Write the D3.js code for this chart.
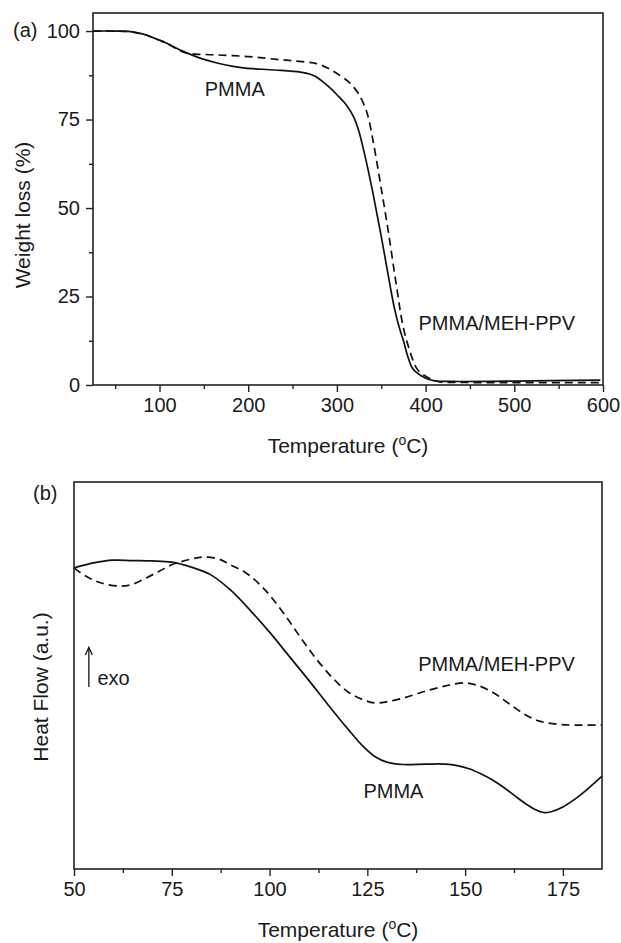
<!DOCTYPE html>
<html>
<head>
<meta charset="utf-8">
<script src="https://cdn.jsdelivr.net/npm/d3@7"></script>
<style>
	body { margin: 0; background: #fff; }
	svg text { font-family: "Liberation Sans", Arial, sans-serif; fill: #1a1a1a; }
</style>
</head>
<body>
<div id="chart"></div>
<script>
// (a) TGA curves: temperature (C) vs weight (%)
var tgaTemp = [25, 50, 65, 75, 85, 90, 100, 107, 115, 122, 130, 150, 166, 183, 197, 230, 259, 270, 277, 285, 292, 300, 310, 319, 325, 330, 335, 340, 345, 350, 355, 360, 365, 370, 375, 380, 385, 390, 398, 405, 413, 430, 500, 597];
var tgaPMMA = [100, 100, 99.9, 99.5, 98.9, 98.4, 97.4, 96.7, 95.6, 94.8, 93.9, 92.0, 90.9, 90.0, 89.5, 89.0, 88.4, 87.8, 87.0, 85.5, 84.0, 82.0, 79.3, 75.7, 71.5, 66.5, 61.0, 55.0, 48.5, 42.0, 35.0, 28.0, 21.5, 16.5, 12.5, 8.0, 4.8, 3.5, 2.2, 1.5, 1.1, 1.0, 1.1, 1.4];

var tgaTempBlend = [25, 50, 65, 75, 85, 90, 100, 107, 115, 122, 130, 140, 160, 200, 232, 255, 277, 290, 300, 310, 315, 320, 325, 330, 335, 340, 345, 350, 355, 360, 365, 369, 372, 376, 380, 385, 391, 400, 409, 416, 450, 597];
var tgaBlend = [100, 100, 99.9, 99.5, 98.9, 98.4, 97.4, 96.7, 95.6, 94.6, 93.8, 93.5, 93.3, 92.8, 92.0, 91.5, 90.8, 89.5, 88.0, 86.3, 85.2, 83.8, 82.0, 79.5, 76.0, 70.0, 63.0, 55.5, 48.0, 40.0, 31.5, 25.0, 20.0, 15.0, 11.4, 7.5, 4.3, 2.5, 1.4, 0.9, 0.7, 0.7];

var tgaXTicks = [100, 200, 300, 400, 500, 600];
var tgaXMinor = [50, 150, 250, 350, 450, 550];
var tgaYTicks = [0, 25, 50, 75, 100];
var tgaYMinor = [12.5, 37.5, 62.5, 87.5];

// (b) DSC curves: temperature (C) vs heat flow (arbitrary units)
var dscTemp = [50, 55, 60, 65, 70, 75, 80, 85, 90, 95, 100, 105, 110, 115, 120, 124, 127, 130, 134, 140, 145, 148, 151, 154, 157, 160, 163, 166, 168, 170, 172, 175, 178, 181, 185];
var dscPMMA = [77.8, 79.1, 79.8, 79.7, 79.6, 79.3, 78.0, 76.0, 72.1, 66.9, 61.2, 55.0, 48.8, 42.4, 36.2, 31.6, 29.0, 27.6, 27.0, 27.1, 27.1, 26.7, 25.9, 24.6, 23.0, 21.0, 18.7, 16.5, 15.3, 14.6, 14.8, 16.0, 18.0, 20.4, 24.0];

var dscTempBlend = [50, 53, 57, 61.8, 65, 70, 75, 80, 83, 87, 90, 94, 97, 100, 104, 108, 112, 116, 120, 124, 127, 130, 135, 140, 145, 149.5, 153, 157, 161, 165, 169, 173, 177, 185];
var dscBlend = [77.8, 75.7, 73.9, 73.1, 73.6, 76.0, 78.6, 80.1, 80.6, 80.1, 78.6, 76.5, 74.0, 70.8, 65.5, 59.7, 54.2, 49.5, 45.8, 43.7, 42.9, 43.2, 44.4, 46.0, 47.3, 48.1, 47.5, 45.7, 42.9, 40.1, 38.2, 37.5, 37.2, 37.2];

var dscXTicks = [50, 75, 100, 125, 150, 175];
var dscXMinor = [62.5, 87.5, 112.5, 137.5, 162.5];

var width = 621;
var height = 943;

var svg = d3.select("#chart").append("svg")
	.attr("width", width)
	.attr("height", height)
	.attr("viewBox", "0 0 " + width + " " + height);

svg.append("rect").attr("width", width).attr("height", height).attr("fill", "#fff");

function zip(xs, ys) {
	return xs.map(function(x, i) { return [x, ys[i]]; });
}

function drawPanel(opts) {
	var g = svg.append("g");
	var x = d3.scaleLinear().domain(opts.xDomain).range([opts.left, opts.right]);
	var y = d3.scaleLinear().domain(opts.yDomain).range([opts.bottom, opts.top]);

	var line = d3.line()
		.x(function(d) { return x(d[0]); })
		.y(function(d) { return y(d[1]); })
		.curve(d3.curveCatmullRom.alpha(0.5));

	opts.series.forEach(function(s) {
		g.append("path")
			.datum(zip(s.x, s.y))
			.attr("d", line)
			.attr("fill", "none")
			.attr("stroke", "#111")
			.attr("stroke-width", 1.7)
			.attr("stroke-dasharray", s.dashed ? "8,5" : null);
	});

	// bottom axis, major + minor ticks
	var xAxis = d3.axisBottom(x).tickValues(opts.xTicks).tickSize(7).tickPadding(6).tickFormat(d3.format("d"));
	g.append("g").attr("transform", "translate(0," + opts.bottom + ")").call(xAxis);
	g.append("g").attr("transform", "translate(0," + opts.bottom + ")")
		.call(d3.axisBottom(x).tickValues(opts.xMinor).tickSize(4).tickFormat(""));

	if (opts.yTicks) {
		g.append("g").attr("transform", "translate(" + opts.left + ",0)")
			.call(d3.axisLeft(y).tickValues(opts.yTicks).tickSize(7).tickPadding(6));
		g.append("g").attr("transform", "translate(" + opts.left + ",0)")
			.call(d3.axisLeft(y).tickValues(opts.yMinor).tickSize(4).tickFormat(""));
	}

	g.selectAll(".domain").remove();
	g.selectAll(".tick line").attr("stroke", "#222").attr("stroke-width", 1.4);
	g.selectAll(".tick text").attr("font-size", 20).attr("fill", "#1a1a1a")
		.attr("font-family", "Liberation Sans, Arial, sans-serif");

	// frame
	g.append("rect")
		.attr("x", opts.left).attr("y", opts.top)
		.attr("width", opts.right - opts.left).attr("height", opts.bottom - opts.top)
		.attr("fill", "none").attr("stroke", "#222").attr("stroke-width", 1.6);

	var title = g.append("text")
		.attr("x", (opts.left + opts.right) / 2)
		.attr("y", opts.bottom + 68)
		.attr("text-anchor", "middle")
		.attr("font-size", 21);
	title.append("tspan").text("Temperature (");
	title.append("tspan").attr("font-size", 14).attr("dy", -8).text("o");
	title.append("tspan").attr("dy", 8).text("C)");

	g.append("text")
		.attr("transform", "translate(" + opts.yTitleX + "," + opts.yTitleY + ") rotate(-90)")
		.attr("text-anchor", "middle")
		.attr("font-size", 21)
		.text(opts.yTitle);

	g.append("text").attr("x", opts.tagX).attr("y", opts.tagY).attr("font-size", 20).text(opts.tag);

	opts.notes.forEach(function(n) {
		g.append("text").attr("x", x(n.t)).attr("y", y(n.v)).attr("font-size", 20).text(n.text);
	});

	return { g: g, x: x, y: y };
}

drawPanel({
	left: 93, right: 603, top: 13, bottom: 385,
	xDomain: [25, 600], yDomain: [0, 105.1],
	xTicks: tgaXTicks, xMinor: tgaXMinor, yTicks: tgaYTicks, yMinor: tgaYMinor,
	series: [
		{ x: tgaTemp, y: tgaPMMA, dashed: false },
		{ x: tgaTempBlend, y: tgaBlend, dashed: true }
	],
	yTitle: "Weight loss (%)", yTitleX: 30, yTitleY: 215,
	tag: "(a)", tagX: 13, tagY: 37,
	notes: [
		{ t: 151, v: 81.6, text: "PMMA" },
		{ t: 392, v: 15.5, text: "PMMA/MEH-PPV" }
	]
});

var b = drawPanel({
	left: 74, right: 602, top: 482, bottom: 869,
	xDomain: [50, 185], yDomain: [0, 100],
	xTicks: dscXTicks, xMinor: dscXMinor, yTicks: null,
	series: [
		{ x: dscTemp, y: dscPMMA, dashed: false },
		{ x: dscTempBlend, y: dscBlend, dashed: true }
	],
	yTitle: "Heat Flow (a.u.)", yTitleX: 48, yTitleY: 687,
	tag: "(b)", tagX: 33, tagY: 500,
	notes: [
		{ t: 124, v: 18.3, text: "PMMA" },
		{ t: 138, v: 51.2, text: "PMMA/MEH-PPV" }
	]
});

// "exo" marker with upward arrow
var ax = b.x(53.8);
b.g.append("line")
	.attr("x1", ax).attr("x2", ax)
	.attr("y1", b.y(47)).attr("y2", b.y(57))
	.attr("stroke", "#111").attr("stroke-width", 1.3);
b.g.append("path")
	.attr("d", d3.line()([[ax - 3.5, b.y(55.3)], [ax, b.y(57.3)], [ax + 3.5, b.y(55.3)]]))
	.attr("fill", "none").attr("stroke", "#111").attr("stroke-width", 1.3);
b.g.append("text").attr("x", b.x(56)).attr("y", b.y(47.5)).attr("font-size", 20).text("exo");
</script>
</body>
</html>
